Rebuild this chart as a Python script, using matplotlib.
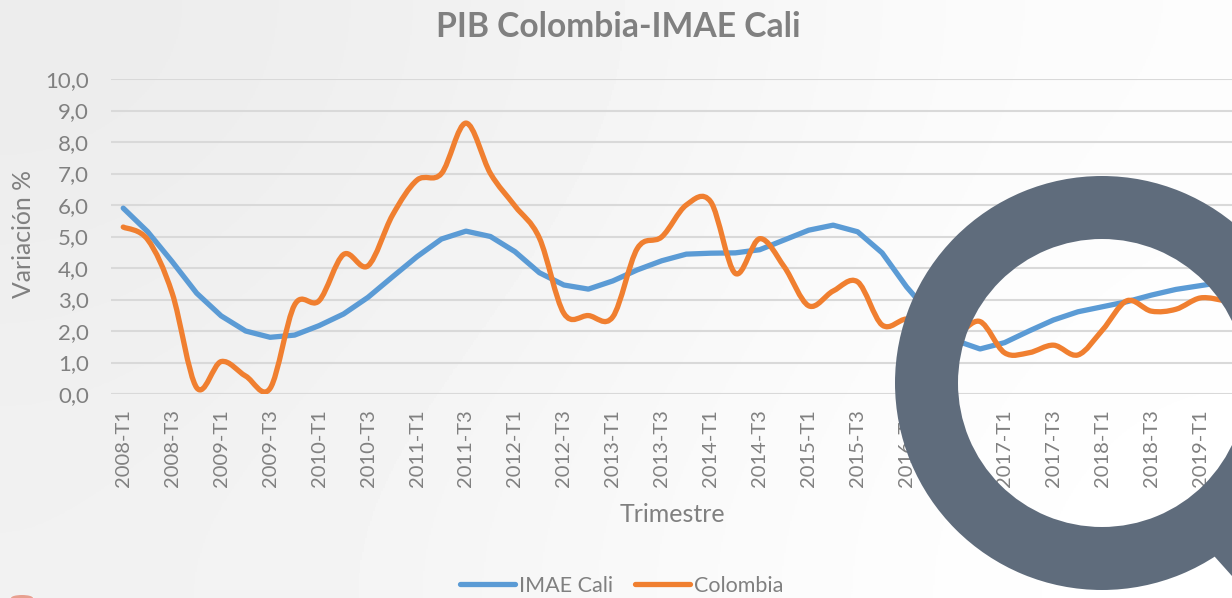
import numpy as np
import matplotlib
matplotlib.use("Agg")
import matplotlib.pyplot as plt
from matplotlib.lines import Line2D
from matplotlib.path import Path
from matplotlib.patches import PathPatch, Wedge, Polygon, Ellipse
from matplotlib.transforms import IdentityTransform

W, H = 1232, 598

# values, 2008-T1 to 2019-T2
quarters = [f"{y}-T{q}" for y in range(2008, 2020) for q in (1, 2, 3, 4)][:46]

imae_cali = [5.90, 5.15, 4.20, 3.20, 2.48, 2.00, 1.80, 1.87, 2.17, 2.54,
             3.07, 3.72, 4.36, 4.92, 5.17, 5.00, 4.52, 3.85, 3.46, 3.33,
             3.59, 3.94, 4.23, 4.44, 4.47, 4.48, 4.58, 4.89, 5.20, 5.36,
             5.15, 4.48, 3.40, 2.50, 1.70, 1.43, 1.63, 2.00, 2.35, 2.61,
             2.77, 2.93, 3.14, 3.32, 3.44, 3.56]

colombia = [5.30, 4.90, 3.20, 0.20, 1.03, 0.57, 0.18, 2.83, 2.96, 4.43,
            4.07, 5.68, 6.79, 7.00, 8.60, 7.00, 5.97, 4.95, 2.56, 2.49,
            2.45, 4.62, 4.99, 6.00, 6.10, 3.83, 4.93, 4.04, 2.80, 3.27,
            3.56, 2.19, 2.38, 2.20, 1.90, 2.30, 1.31, 1.31, 1.55, 1.24,
            2.03, 2.96, 2.63, 2.69, 3.05, 2.96]

y_ticks = [0, 1, 2, 3, 4, 5, 6, 7, 8, 9, 10]
y_labels = ["0,0", "1,0", "2,0", "3,0", "4,0", "5,0", "6,0", "7,0", "8,0", "9,0", "10,0"]

BLUE = "#5B9BD5"
ORANGE = "#F07F30"
GREY = "#808080"
RING = "#5F6C7C"

plt.rcParams["font.family"] = ["Lato", "DejaVu Sans"]


def px(x, y):
    # image pixel (y down) to figure fraction
    return x / W, 1 - y / H


def smooth_path(xs, ys):
    # same bezier smoothing a spreadsheet uses on its "smoothed line"
    pts = np.column_stack([xs, ys])
    verts = [pts[0]]
    codes = [Path.MOVETO]
    for i in range(len(pts) - 1):
        p0 = pts[max(i - 1, 0)]
        p1 = pts[i]
        p2 = pts[i + 1]
        p3 = pts[min(i + 2, len(pts) - 1)]
        verts += [p1 + (p2 - p0) / 6, p2 - (p3 - p1) / 6, p2]
        codes += [Path.CURVE4] * 3
    return Path(verts, codes)


fig = plt.figure(figsize=(W / 100, H / 100), dpi=100)

# soft grey to white background
bg = fig.add_axes([0, 0, 1, 1], zorder=0)
grad = np.array([[0.925, 0.955, 0.99], [0.935, 0.965, 0.995], [0.945, 0.975, 1.0]])
bg.imshow(grad, cmap="gray", vmin=0, vmax=1, aspect="auto", interpolation="bicubic",
          extent=[0, 1, 0, 1])
bg.axis("off")

left, bottom = px(111, 394)
_, top = px(0, 79)
ax = fig.add_axes([left, bottom, 1 - left, top - bottom], zorder=1)
ax.patch.set_visible(False)

x = np.arange(len(quarters))
ax.plot(x, imae_cali, color=BLUE, lw=3.8, solid_capstyle="round", solid_joinstyle="round", zorder=3)
ax.add_patch(PathPatch(smooth_path(x, colombia), fill=False, edgecolor=ORANGE, lw=3.8,
                       capstyle="round", joinstyle="round", zorder=4))

ax.set_xlim(-0.5, (W - 111) / 24.48 - 0.5)
ax.set_ylim(0, 10)
ax.set_yticks(y_ticks)
ax.set_yticklabels(y_labels)
ax.set_xticks(x[::2])
ax.set_xticklabels(quarters[::2], rotation=90)
ax.tick_params(axis="both", length=0, labelcolor=GREY, labelsize=14.5)
ax.tick_params(axis="x", pad=11)
ax.tick_params(axis="y", pad=16, labelsize=16)
ax.grid(axis="y", color="#D9D9D9", lw=1.5, zorder=0)
ax.set_axisbelow(True)
for s in ax.spines.values():
    s.set_visible(False)

fig.text(*px(618, 27), "PIB Colombia-IMAE Cali", ha="center", va="center",
         fontsize=24.2, fontweight="bold", color=GREY)
fig.text(*px(672, 514), "Trimestre", ha="center", va="center", fontsize=18, color=GREY)
fig.text(*px(24, 234), "Variación %", ha="center", va="center", rotation=90, fontsize=17.8, color=GREY)

handles = [Line2D([], [], color=BLUE, lw=3.8, solid_capstyle="round"),
           Line2D([], [], color=ORANGE, lw=3.8, solid_capstyle="round")]
fig.legend(handles, ["IMAE Cali", "Colombia"], loc="center", bbox_to_anchor=px(622, 586),
           ncol=2, frameon=False, fontsize=15.5, labelcolor=GREY, handlelength=2.55,
           handletextpad=0.2, columnspacing=1.0, borderpad=0, borderaxespad=0)

# magnifier shaped logo sitting over the chart, placed in pixels
top_t = IdentityTransform()
cx, cy = 1102, H - 383
fig.add_artist(Wedge((cx, cy), 207, 0, 360, width=63, facecolor=RING, edgecolor="none",
                     transform=top_t, zorder=5))
fig.add_artist(Polygon([(1195, H - 530), (1215, H - 557), (1232, H - 576), (1232, H - 520)],
                       closed=True, facecolor=RING, edgecolor="none", transform=top_t, zorder=5))
fig.add_artist(Ellipse((22, 0), 22, 6, facecolor="#E8A090", edgecolor="none",
                       transform=top_t, zorder=5))

fig.savefig("out.png", dpi=100)
